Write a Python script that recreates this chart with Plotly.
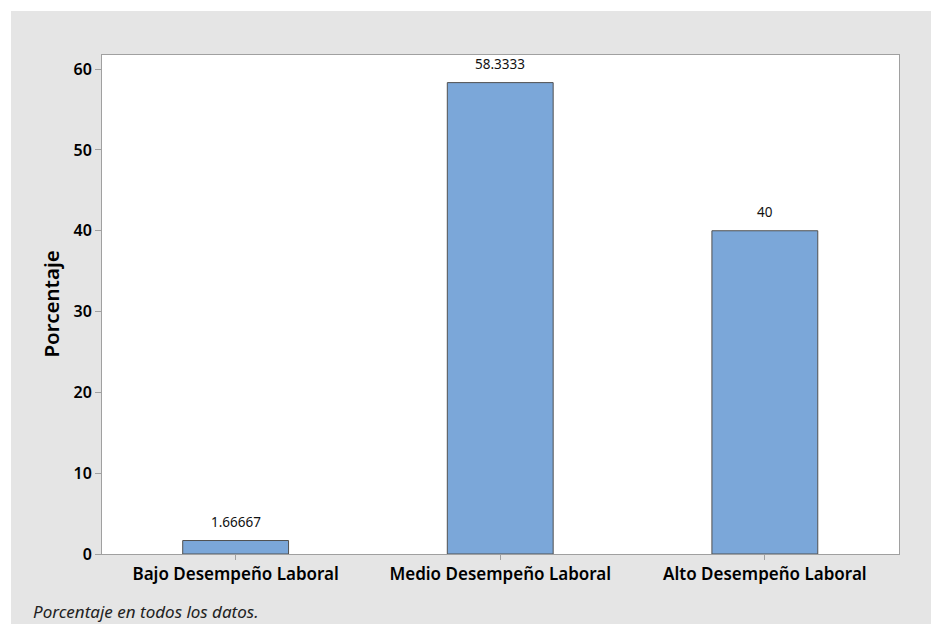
import plotly.graph_objects as go

categories = ["Bajo Desempeño Laboral", "Medio Desempeño Laboral", "Alto Desempeño Laboral"]
values = [1.66667, 58.3333, 40]
value_labels = ["1.66667", "58.3333", "40"]
y_ticks = [0, 10, 20, 30, 40, 50, 60]

FONT = "Noto Sans"

fig = go.Figure(
    go.Bar(
        x=categories,
        y=values,
        width=0.4,
        marker=dict(color="#7BA7D9", line=dict(color="#505050", width=1)),
        hoverinfo="skip",
    )
)

L, R, T, B = 102, 32, 55, 70
W, H = 931, 624
pw = W - L - R
ph = H - T - B

annotations = [
    dict(
        x=c, y=v, text=t, xref="x", yref="y", showarrow=False,
        xanchor="center", yanchor="bottom", yshift=8,
        font=dict(family=FONT, size=13.5, color="#111111"),
    )
    for c, v, t in zip(categories, values, value_labels)
]
annotations += [
    dict(
        text="Porcentaje", xref="paper", yref="paper",
        x=(50 - L) / pw, y=0.5, textangle=-90, showarrow=False,
        xanchor="center", yanchor="middle",
        font=dict(family=FONT, size=20.5, color="black", weight=600),
    ),
    dict(
        text="<i>Porcentaje en todos los datos.</i>", xref="paper", yref="paper",
        x=(31 - L) / pw, y=-(611 - (T + ph)) / ph, showarrow=False,
        xanchor="left", yanchor="middle",
        font=dict(family=FONT, size=17, color="#222222"),
    ),
]

fig.update_layout(
    width=W,
    height=H,
    margin=dict(l=L, r=R, t=T, b=B, pad=0),
    paper_bgcolor="white",
    plot_bgcolor="white",
    showlegend=False,
    shapes=[
        dict(
            type="rect", xref="paper", yref="paper", layer="below",
            x0=(11 - L) / pw, x1=(W - L) / pw,
            y0=-(H - (T + ph)) / ph, y1=(T + ph - 11) / ph,
            fillcolor="#E5E5E5", line=dict(width=0),
        ),
        dict(
            type="rect", xref="paper", yref="paper", layer="below",
            x0=0, x1=1, y0=0, y1=1,
            fillcolor="white", line=dict(width=0),
        ),
    ],
    annotations=annotations,
)

fig.update_xaxes(
    range=[-0.505, 2.507],
    showline=True, linecolor="#A0A0A0", linewidth=1, mirror=True,
    ticks="outside", ticklen=5, tickcolor="#A0A0A0",
    tickfont=dict(family=FONT, size=17, color="black", weight=600),
    showgrid=False, zeroline=False, fixedrange=True,
)
fig.update_yaxes(
    range=[0, 61.75],
    tickvals=y_ticks,
    showline=True, linecolor="#A0A0A0", linewidth=1, mirror=True,
    ticks="outside", ticklen=6, tickcolor="#A0A0A0",
    tickfont=dict(family=FONT, size=16, color="black", weight=600),
    showgrid=False, zeroline=False, fixedrange=True,
)

fig.write_html(
    "out.html",
    config={"displayModeBar": False},
    post_script="document.body.style.margin='0';document.body.style.padding='0';",
)
